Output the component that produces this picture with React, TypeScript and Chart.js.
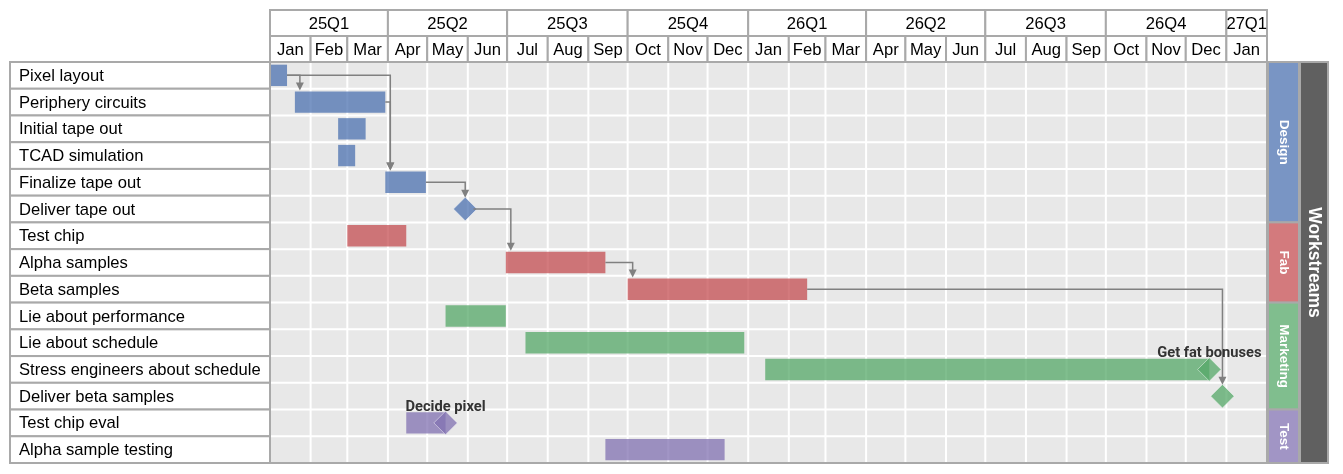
import React, { useEffect, useRef } from 'react';
import { Chart, registerables } from 'chart.js';

Chart.register(...registerables);

// ---------- data ----------
const tasks = [
  'Pixel layout',
  'Periphery circuits',
  'Initial tape out',
  'TCAD simulation',
  'Finalize tape out',
  'Deliver tape out',
  'Test chip',
  'Alpha samples',
  'Beta samples',
  'Lie about performance',
  'Lie about schedule',
  'Stress engineers about schedule',
  'Deliver beta samples',
  'Test chip eval',
  'Alpha sample testing',
];
const taskStream = [
  'Design', 'Design', 'Design', 'Design', 'Design', 'Design',
  'Fab', 'Fab', 'Fab',
  'Marketing', 'Marketing', 'Marketing', 'Marketing',
  'Test', 'Test',
];
const taskStart = [
  '2025-01-01', '2025-01-20', '2025-02-22', '2025-02-22', '2025-03-30', null,
  '2025-03-01', '2025-06-30', '2025-10-01',
  '2025-05-15', '2025-07-15', '2026-01-14', null,
  '2025-04-15', '2025-09-14',
];
const taskEnd = [
  '2025-01-14', '2025-03-30', '2025-03-15', '2025-03-07', '2025-04-30', null,
  '2025-04-15', '2025-09-14', '2026-02-15',
  '2025-06-30', '2025-12-29', '2026-12-19', null,
  '2025-05-15', '2025-12-14',
];

const milestoneTask = ['Deliver tape out', 'Stress engineers about schedule', 'Deliver beta samples', 'Test chip eval'];
const milestoneDate = ['2025-05-30', '2026-12-19', '2026-12-29', '2025-05-15'];
const milestoneLabel = ['', 'Get fat bonuses', '', 'Decide pixel'];

const depFrom = ['Pixel layout', 'Pixel layout', 'Periphery circuits', 'Finalize tape out', 'Deliver tape out', 'Alpha samples', 'Beta samples'];
const depTo = ['Periphery circuits', 'Finalize tape out', 'Finalize tape out', 'Deliver tape out', 'Alpha samples', 'Beta samples', 'Deliver beta samples'];

const streams = ['Design', 'Fab', 'Marketing', 'Test'];
const streamColors = ['#4C72B0', '#C44E52', '#55A868', '#8172B2'];
const streamTitle = 'Workstreams';

const quarterLabels = ['25Q1', '25Q2', '25Q3', '25Q4', '26Q1', '26Q2', '26Q3', '26Q4', '27Q1'];
const quarterStarts = ['2025-01-01', '2025-04-01', '2025-07-01', '2025-10-01', '2026-01-01', '2026-04-01', '2026-07-01', '2026-10-01', '2027-01-01'];
const monthLabels = [
  'Jan', 'Feb', 'Mar', 'Apr', 'May', 'Jun', 'Jul', 'Aug', 'Sep', 'Oct', 'Nov', 'Dec',
  'Jan', 'Feb', 'Mar', 'Apr', 'May', 'Jun', 'Jul', 'Aug', 'Sep', 'Oct', 'Nov', 'Dec',
  'Jan',
];
const monthStarts = [
  '2025-01-01', '2025-02-01', '2025-03-01', '2025-04-01', '2025-05-01', '2025-06-01',
  '2025-07-01', '2025-08-01', '2025-09-01', '2025-10-01', '2025-11-01', '2025-12-01',
  '2026-01-01', '2026-02-01', '2026-03-01', '2026-04-01', '2026-05-01', '2026-06-01',
  '2026-07-01', '2026-08-01', '2026-09-01', '2026-10-01', '2026-11-01', '2026-12-01',
  '2027-01-01',
];
const axisStart = '2025-01-01';
const axisEnd = '2027-02-01';

// ---------- helpers ----------
const DAY_MS = 86400000;
const toDay = (s: string) => (Date.parse(s) - Date.parse(axisStart)) / DAY_MS;

function rgba(hex: string, a: number) {
  const n = parseInt(hex.slice(1), 16);
  return `rgba(${(n >> 16) & 255},${(n >> 8) & 255},${n & 255},${a})`;
}
const streamColor = (s: string) => streamColors[streams.indexOf(s)];

const FONT = '"Liberation Sans", Arial, sans-serif';
const BORDER = '#a9a9a9';
const ARROW = '#808080';
const BAR_PCT = 0.8;
const DIAMOND_HALF = 8.3;

const ganttPlugin = {
  id: 'gantt',
  beforeDatasetsDraw(chart: any) {
    const { ctx, chartArea: a, scales } = chart;
    const x = scales.x;
    const y = scales.y;
    const n = tasks.length;
    const rowH = (a.bottom - a.top) / n;
    ctx.save();
    ctx.fillStyle = '#e8e8e8';
    ctx.fillRect(a.left, a.top, a.right - a.left, a.bottom - a.top);
    ctx.strokeStyle = '#ffffff';
    ctx.lineWidth = 2;
    ctx.beginPath();
    monthStarts.slice(1).forEach((d) => {
      const px = x.getPixelForValue(toDay(d));
      ctx.moveTo(px, a.top);
      ctx.lineTo(px, a.bottom);
    });
    for (let i = 1; i < n; i++) {
      const py = y.getPixelForValue(i) - rowH / 2;
      ctx.moveTo(a.left, py);
      ctx.lineTo(a.right, py);
    }
    ctx.stroke();
    ctx.restore();
  },
  afterDatasetsDraw(chart: any) {
    const { ctx, chartArea: a, scales } = chart;
    const x = scales.x;
    const y = scales.y;
    const n = tasks.length;
    const rowH = (a.bottom - a.top) / n;
    const barHalf = (rowH * BAR_PCT) / 2;
    ctx.save();

    // ---- dependency arrows ----
    ctx.strokeStyle = ARROW;
    ctx.fillStyle = ARROW;
    ctx.lineWidth = 1.5;
    depFrom.forEach((from, k) => {
      const to = depTo[k];
      const fi = tasks.indexOf(from);
      const ti = tasks.indexOf(to);
      const fm = milestoneTask.indexOf(from);
      const tm = milestoneTask.indexOf(to);
      const sy = y.getPixelForValue(fi);
      let sx: number;
      if (taskEnd[fi]) sx = x.getPixelForValue(toDay(taskEnd[fi] as string));
      else sx = x.getPixelForValue(toDay(milestoneDate[fm])) + DIAMOND_HALF;
      const tc = y.getPixelForValue(ti);
      let tx: number;
      let tipY: number;
      if (taskStart[ti]) {
        tx = x.getPixelForValue(toDay(taskStart[ti] as string)) + 5;
        tipY = tc - barHalf - 1;
      } else {
        tx = x.getPixelForValue(toDay(milestoneDate[tm]));
        tipY = tc - DIAMOND_HALF - 3;
      }
      const head = 8;
      ctx.beginPath();
      ctx.moveTo(sx, sy);
      ctx.lineTo(tx, sy);
      ctx.lineTo(tx, tipY - head + 1);
      ctx.stroke();
      ctx.beginPath();
      ctx.moveTo(tx, tipY);
      ctx.lineTo(tx - 4, tipY - head);
      ctx.lineTo(tx + 4, tipY - head);
      ctx.closePath();
      ctx.fill();
    });

    // ---- milestone labels ----
    ctx.font = 'bold 14.7px Roboto, "Liberation Sans", sans-serif';
    ctx.fillStyle = '#333333';
    ctx.textAlign = 'center';
    ctx.textBaseline = 'alphabetic';
    milestoneLabel.forEach((lab, k) => {
      if (!lab) return;
      const i = tasks.indexOf(milestoneTask[k]);
      const px = x.getPixelForValue(toDay(milestoneDate[k]));
      const py = y.getPixelForValue(i) - barHalf - 1.5;
      ctx.fillText(lab, px, py);
    });

    // ---- plot frame ----
    ctx.strokeStyle = BORDER;
    ctx.lineWidth = 2;
    ctx.strokeRect(a.left, a.top, a.right - a.left, a.bottom - a.top);

    // ---- header ----
    const hH = 26;
    const qTop = a.top - 2 * hH;
    const mTop = a.top - hH;
    const endPx = x.getPixelForValue(toDay(axisEnd));
    ctx.font = `16.6px ${FONT}`;
    ctx.textAlign = 'center';
    ctx.textBaseline = 'middle';
    quarterLabels.forEach((lab, i) => {
      const x0 = x.getPixelForValue(toDay(quarterStarts[i]));
      const x1 = i + 1 < quarterStarts.length ? x.getPixelForValue(toDay(quarterStarts[i + 1])) : endPx;
      ctx.fillStyle = '#ffffff';
      ctx.fillRect(x0, qTop, x1 - x0, hH);
      ctx.strokeStyle = BORDER;
      ctx.strokeRect(x0, qTop, x1 - x0, hH);
      ctx.fillStyle = '#000000';
      ctx.fillText(lab, (x0 + x1) / 2, qTop + hH / 2 + 1);
    });
    monthLabels.forEach((lab, i) => {
      const x0 = x.getPixelForValue(toDay(monthStarts[i]));
      const x1 = i + 1 < monthStarts.length ? x.getPixelForValue(toDay(monthStarts[i + 1])) : endPx;
      ctx.fillStyle = '#ffffff';
      ctx.fillRect(x0, mTop, x1 - x0, hH);
      ctx.strokeStyle = BORDER;
      ctx.strokeRect(x0, mTop, x1 - x0, hH);
      ctx.fillStyle = '#000000';
      ctx.fillText(lab, (x0 + x1) / 2, mTop + hH / 2 + 1);
    });

    // ---- task label boxes ----
    const lx = 10;
    ctx.textAlign = 'left';
    tasks.forEach((t, i) => {
      const cy = y.getPixelForValue(i);
      const top = cy - rowH / 2;
      ctx.fillStyle = '#ffffff';
      ctx.fillRect(lx, top, a.left - lx, rowH);
      ctx.strokeStyle = BORDER;
      ctx.strokeRect(lx, top, a.left - lx, rowH);
      ctx.fillStyle = '#000000';
      ctx.fillText(t, lx + 9, cy + 1);
    });

    // ---- workstream bands ----
    const bx = a.right + 1;
    const bw = 31;
    streams.forEach((s, k) => {
      const first = taskStream.indexOf(s);
      const last = taskStream.lastIndexOf(s);
      const y0 = y.getPixelForValue(first) - rowH / 2;
      const y1 = y.getPixelForValue(last) + rowH / 2;
      ctx.fillStyle = '#ffffff';
      ctx.fillRect(bx, y0, bw, y1 - y0);
      ctx.fillStyle = rgba(streamColors[k], 0.75);
      ctx.fillRect(bx, y0, bw, y1 - y0);
      ctx.strokeStyle = BORDER;
      ctx.strokeRect(bx, y0, bw, y1 - y0);
      ctx.save();
      ctx.translate(bx + bw / 2, (y0 + y1) / 2);
      ctx.rotate(Math.PI / 2);
      ctx.font = `bold 13.5px ${FONT}`;
      ctx.fillStyle = '#ffffff';
      ctx.textAlign = 'center';
      ctx.textBaseline = 'middle';
      ctx.fillText(s, 0, 0);
      ctx.restore();
    });
    const wx = bx + bw + 1;
    const ww = 28;
    ctx.fillStyle = '#606060';
    ctx.fillRect(wx, a.top, ww, a.bottom - a.top);
    ctx.strokeStyle = BORDER;
    ctx.strokeRect(wx, a.top, ww, a.bottom - a.top);
    ctx.save();
    ctx.translate(wx + ww / 2, (a.top + a.bottom) / 2);
    ctx.rotate(Math.PI / 2);
    ctx.font = `bold 17.5px ${FONT}`;
    ctx.fillStyle = '#ffffff';
    ctx.textAlign = 'center';
    ctx.textBaseline = 'middle';
    ctx.fillText(streamTitle, 0, 0);
    ctx.restore();

    ctx.restore();
  },
};

export default function App() {
  const ref = useRef<HTMLCanvasElement | null>(null);
  useEffect(() => {
    if (!ref.current) return;
    const barData = tasks.map((_, i) =>
      taskStart[i] ? [toDay(taskStart[i] as string), toDay(taskEnd[i] as string)] : null
    );
    const barColors = tasks.map((_, i) => rgba(streamColor(taskStream[i]), 0.75));
    const msData = milestoneTask.map((t, k) => ({ x: toDay(milestoneDate[k]), y: t }));
    const msColors = milestoneTask.map((t) => rgba(streamColor(taskStream[tasks.indexOf(t)]), 0.75));
    const chart = new Chart(ref.current, {
      type: 'bar',
      data: {
        labels: tasks,
        datasets: [
          {
            type: 'bar',
            indexAxis: 'y',
            data: barData as any,
            backgroundColor: barColors,
            borderWidth: 0,
            barPercentage: BAR_PCT,
            categoryPercentage: 1,
            order: 2,
          } as any,
          {
            type: 'scatter',
            data: msData as any,
            pointStyle: 'rectRot',
            pointRadius: DIAMOND_HALF / Math.SQRT1_2,
            backgroundColor: msColors,
            borderColor: 'rgba(255,255,255,0.45)',
            borderWidth: 1,
            clip: false,
            order: 1,
          } as any,
        ],
      },
      options: {
        animation: false,
        responsive: false,
        maintainAspectRatio: false,
        events: [],
        layout: { autoPadding: false, padding: { left: 270, right: 76, top: 62, bottom: 11 } },
        scales: {
          x: {
            type: 'linear',
            min: toDay(axisStart),
            max: toDay(axisEnd),
            offset: false,
            grace: 0,
            bounds: 'data',
            display: false,
          },
          y: { type: 'category', offset: true, display: false },
        },
        plugins: { legend: { display: false }, tooltip: { enabled: false } },
      } as any,
      plugins: [ganttPlugin],
    });
    return () => chart.destroy();
  }, []);
  return (
    <div style={{ position: 'absolute', left: 0, top: 0, width: 1343, height: 474, background: '#ffffff' }}>
      <canvas ref={ref} width={1343} height={474} style={{ display: 'block' }} />
    </div>
  );
}
